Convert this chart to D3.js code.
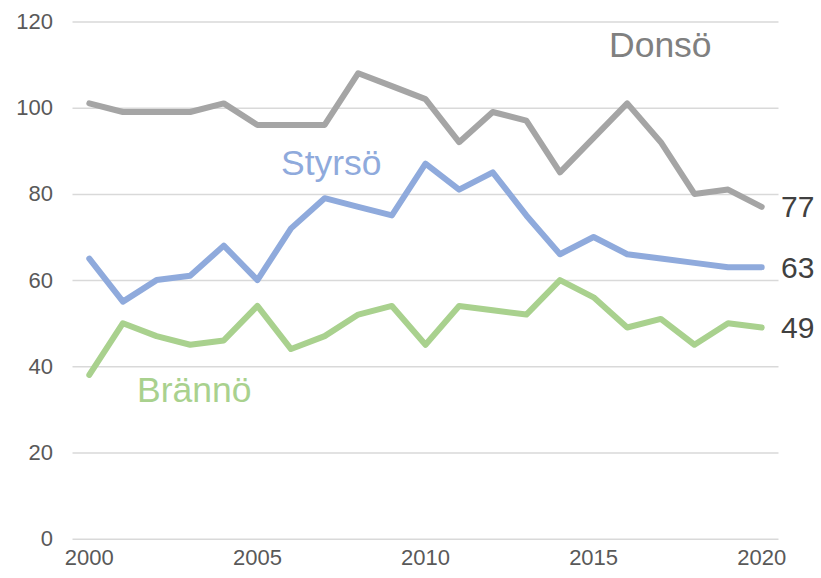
<!DOCTYPE html>
<html>
<head>
<meta charset="utf-8">
<script src="https://cdn.jsdelivr.net/npm/d3@7.9.0/dist/d3.min.js"></script>
<style>
  body { margin: 0; background: #fff; }
  svg { display: block; font-family: "Liberation Sans", Arial, sans-serif; }
</style>
</head>
<body>
<div id="chart"></div>
<script>
const years = d3.range(2000, 2021);
const donso  = [101, 99, 99, 99, 101, 96, 96, 96, 108, 105, 102, 92, 99, 97, 85, 93, 101, 92, 80, 81, 77];
const styrso = [65, 55, 60, 61, 68, 60, 72, 79, 77, 75, 87, 81, 85, 75, 66, 70, 66, 65, 64, 63, 63];
const branno = [38, 50, 47, 45, 46, 54, 44, 47, 52, 54, 45, 54, 53, 52, 60, 56, 49, 51, 45, 50, 49];
const yTicks = [0, 20, 40, 60, 80, 100, 120];
const xTickYears = [2000, 2005, 2010, 2015, 2020];

const series = [
  { name: 'Donsö',  values: donso,  color: '#A5A5A5', labelColor: '#808080', label: [609, 57] },
  { name: 'Styrsö', values: styrso, color: '#8FAADC', labelColor: '#8FAADC', label: [281, 175] },
  { name: 'Brännö', values: branno, color: '#A9D18E', labelColor: '#A9D18E', label: [137, 402] },
];

const width = 821, height = 578;
const svg = d3.select('#chart').append('svg')
  .attr('width', width).attr('height', height);

// category axis, points sit in the middle of each band (like Excel)
const x = d3.scaleBand().domain(years).range([72.5, 778.5]);
const xc = d => x(d) + x.bandwidth() / 2;
const y = d3.scaleLinear().domain([0, 120]).range([538.7, 21.5]);

// gridlines
svg.append('g')
  .attr('transform', 'translate(72.5,0)')
  .call(d3.axisLeft(y).tickValues(yTicks).tickSize(-706).tickFormat(''))
  .call(g => g.select('.domain').remove())
  .call(g => g.selectAll('line').attr('stroke', '#D9D9D9').attr('stroke-width', 1.5));

// y labels
svg.append('g')
  .attr('transform', 'translate(53,0)')
  .call(d3.axisLeft(y).tickValues(yTicks).tickSize(0).tickPadding(0))
  .call(g => g.select('.domain').remove())
  .call(g => g.selectAll('text')
    .attr('fill', '#595959').style('font-size', '22px')
    .style('font-family', '"Liberation Sans", Arial, sans-serif'));

// x labels
svg.append('g')
  .attr('transform', 'translate(0,549)')
  .call(d3.axisBottom(x).tickValues(xTickYears).tickSize(0).tickPadding(0))
  .call(g => g.select('.domain').remove())
  .call(g => g.selectAll('text')
    .attr('fill', '#595959').attr('dy', '0.71em').style('font-size', '22px')
    .style('font-family', '"Liberation Sans", Arial, sans-serif'));

const line = d3.line()
  .x((d, i) => xc(years[i]))
  .y(d => y(d));

series.forEach(s => {
  svg.append('path')
    .datum(s.values)
    .attr('fill', 'none')
    .attr('stroke', s.color)
    .attr('stroke-width', 6)
    .attr('stroke-linejoin', 'round')
    .attr('stroke-linecap', 'round')
    .attr('d', line);

  svg.append('text')
    .attr('x', s.label[0]).attr('y', s.label[1])
    .attr('fill', s.labelColor)
    .style('font-size', '35.5px')
    .text(s.name);

  const last = s.values[s.values.length - 1];
  svg.append('text')
    .attr('x', 781)
    .attr('y', y(last))
    .attr('dy', '0.35em')
    .attr('fill', '#404040')
    .style('font-size', '30px')
    .text(last);
});
</script>
</body>
</html>
